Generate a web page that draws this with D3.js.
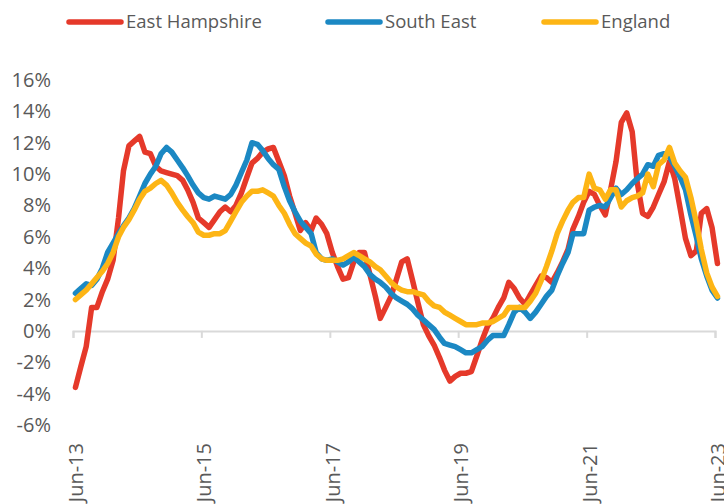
<!DOCTYPE html>
<html>
<head>
<meta charset="utf-8">
<script src="https://cdn.jsdelivr.net/npm/d3@7"></script>
<style>
  body { margin: 0; background: #fff; }
  text { font-family: "Open Sans", sans-serif; fill: #595959; }
</style>
</head>
<body>
<div id="chart"></div>
<script>
// monthly house price growth (annual %), Jun-13 .. Jun-23
var seriesNames = ["East Hampshire", "South East", "England"];
var seriesColors = ["#e5392a", "#1b88c3", "#fdb515"];

var eastHampshire = [
  -3.6, -2.3, -1.0, 1.5, 1.5, 2.5, 3.3, 4.5, 7.2, 10.2, 11.8, 12.1,
  12.4, 11.4, 11.3, 10.5, 10.2, 10.1, 10.0, 9.9, 9.6, 9.0, 8.2, 7.2,
  6.9, 6.6, 7.1, 7.6, 7.9, 7.6, 8.0, 8.8, 9.8, 10.7, 11.0, 11.4,
  11.6, 11.7, 10.8, 9.9, 8.6, 7.5, 6.4, 6.9, 6.4, 7.2, 6.8, 6.2,
  5.0, 4.1, 3.3, 3.4, 4.4, 5.0, 5.0, 3.6, 2.2, 0.8, 1.5, 2.2,
  3.3, 4.4, 4.6, 3.2, 1.8, 0.4, -0.3, -0.9, -1.7, -2.5, -3.2, -2.9,
  -2.7, -2.7, -2.6, -1.6, -0.6, 0.3, 0.8, 1.5, 2.1, 3.1, 2.7, 2.1,
  1.7, 2.3, 2.9, 3.5, 3.4, 3.1, 3.7, 4.4, 5.2, 6.5, 7.3, 8.2,
  8.9, 8.7, 8.0, 7.4, 9.0, 10.8, 13.3, 13.9, 12.7, 9.5, 7.5, 7.3,
  7.9, 8.7, 9.5, 10.8, 9.7, 7.8, 5.9, 4.8, 5.1, 7.5, 7.8, 6.6,
  4.3
];

var southEast = [
  2.4, 2.7, 3.0, 2.9, 3.3, 4.0, 5.0, 5.6, 6.2, 6.7, 7.2, 7.8,
  8.6, 9.4, 10.0, 10.5, 11.3, 11.7, 11.4, 10.9, 10.4, 9.9, 9.3, 8.8,
  8.5, 8.4, 8.6, 8.5, 8.4, 8.7, 9.3, 10.1, 10.9, 12.0, 11.9, 11.5,
  11.0, 10.6, 10.3, 9.2, 8.3, 7.6, 7.0, 6.6, 6.2, 5.0, 4.6, 4.5,
  4.6, 4.4, 4.2, 4.4, 4.7, 4.4, 4.1, 3.6, 3.3, 3.1, 2.8, 2.4,
  2.1, 1.9, 1.7, 1.4, 1.0, 0.7, 0.4, 0.1, -0.4, -0.8, -0.9, -1.0,
  -1.2, -1.4, -1.4, -1.2, -1.0, -0.6, -0.3, -0.3, -0.3, 0.4, 1.2, 1.5,
  1.2, 0.8, 1.2, 1.7, 2.2, 2.6, 3.5, 4.3, 5.0, 6.2, 6.2, 6.2,
  7.7, 7.9, 8.0, 7.9, 8.5, 9.1, 8.7, 9.0, 9.4, 9.7, 10.0, 10.6,
  10.5, 11.2, 11.3, 11.1, 10.5, 9.8, 9.0, 7.4, 6.0, 4.6, 3.5, 2.6,
  2.1
];

var england = [
  2.0, 2.3, 2.6, 3.0, 3.4, 3.8, 4.3, 5.0, 6.0, 6.6, 7.1, 7.7,
  8.4, 8.9, 9.1, 9.4, 9.6, 9.3, 8.8, 8.2, 7.7, 7.3, 6.9, 6.3,
  6.1, 6.1, 6.2, 6.2, 6.4, 7.0, 7.6, 8.2, 8.6, 8.9, 8.9, 9.0,
  8.8, 8.6, 8.0, 7.5, 6.8, 6.2, 5.9, 5.6, 5.4, 4.9, 4.6, 4.5,
  4.5, 4.5, 4.6, 4.8, 5.0, 4.8, 4.6, 4.4, 4.1, 3.9, 3.5, 3.1,
  2.8, 2.6, 2.5, 2.5, 2.4, 2.3, 1.9, 1.6, 1.5, 1.2, 1.0, 0.8,
  0.6, 0.4, 0.4, 0.4, 0.5, 0.5, 0.6, 0.8, 1.0, 1.5, 1.5, 1.5,
  1.5, 1.9, 2.4, 3.2, 4.1, 5.1, 6.2, 7.0, 7.7, 8.2, 8.5, 8.5,
  10.0, 9.1, 9.0, 8.4, 9.0, 9.0, 7.9, 8.3, 8.5, 8.6, 8.8, 10.0,
  9.2, 10.6, 10.9, 11.7, 10.7, 10.2, 9.8, 8.5, 6.9, 5.2, 3.7, 2.8,
  2.2
];

var yTicks = [-6, -4, -2, 0, 2, 4, 6, 8, 10, 12, 14, 16];
var xTickLabels = ["Jun-13", "Jun-15", "Jun-17", "Jun-19", "Jun-21", "Jun-23"];

var width = 724;
var height = 504;

var svg = d3.select("#chart")
  .append("svg")
  .attr("width", width)
  .attr("height", height);

// points sit mid-month, ticks on the 1st
var months = d3.range(eastHampshire.length).map(function(i) {
  return new Date(2013, 5 + i, 15);
});

var x = d3.scaleTime()
  .domain([new Date(2013, 5, 1), new Date(2023, 5, 1)])
  .range([73, 715]);

var y = d3.scaleLinear()
  .domain([-6, 16])
  .range([425, 80]);

// y labels
svg.append("g")
  .selectAll("text")
  .data(yTicks)
  .enter()
  .append("text")
  .attr("x", 51)
  .attr("y", function(d) { return y(d); })
  .attr("dy", "0.35em")
  .attr("text-anchor", "end")
  .attr("font-size", 20)
  .text(function(d) { return d + "%"; });

// x axis on the zero line
var tickDates = xTickLabels.map(function(t, i) { return new Date(2013 + 2 * i, 5, 1); });
var xAxis = d3.axisBottom(x)
  .tickValues(tickDates)
  .tickSize(7)
  .tickFormat("");

var xg = svg.append("g")
  .attr("transform", "translate(0," + y(0) + ")")
  .call(xAxis);
xg.select(".domain").attr("stroke", "#d9d9d9").attr("stroke-width", 2);
xg.selectAll(".tick line").attr("stroke", "#d9d9d9").attr("stroke-width", 2);

svg.append("g")
  .selectAll("text")
  .data(xTickLabels)
  .enter()
  .append("text")
  .attr("transform", function(d, i) {
    return "translate(" + (x(tickDates[i]) + 3) + ",443) rotate(-90)";
  })
  .attr("dy", "0.35em")
  .attr("text-anchor", "end")
  .attr("font-size", 20)
  .text(function(d) { return d; });

// lines
var allSeries = [eastHampshire, southEast, england];
var line = d3.line()
  .x(function(d, i) { return x(months[i]); })
  .y(function(d) { return y(d); });

svg.append("g")
  .selectAll("path")
  .data(allSeries)
  .enter()
  .append("path")
  .attr("d", line)
  .attr("fill", "none")
  .attr("stroke", function(d, i) { return seriesColors[i]; })
  .attr("stroke-width", 5.5)
  .attr("stroke-linejoin", "round")
  .attr("stroke-linecap", "round");

// legend
var legendX = [67, 326, 542];
var legend = svg.append("g")
  .selectAll("g")
  .data(seriesNames)
  .enter()
  .append("g")
  .attr("transform", function(d, i) { return "translate(" + legendX[i] + ",22)"; });

legend.append("line")
  .attr("x1", 2)
  .attr("x2", 54)
  .attr("stroke", function(d, i) { return seriesColors[i]; })
  .attr("stroke-width", 5.5)
  .attr("stroke-linecap", "round");

legend.append("text")
  .attr("x", 59)
  .attr("dy", "0.35em")
  .attr("font-size", 18.5)
  .text(function(d) { return d; });
</script>
</body>
</html>
